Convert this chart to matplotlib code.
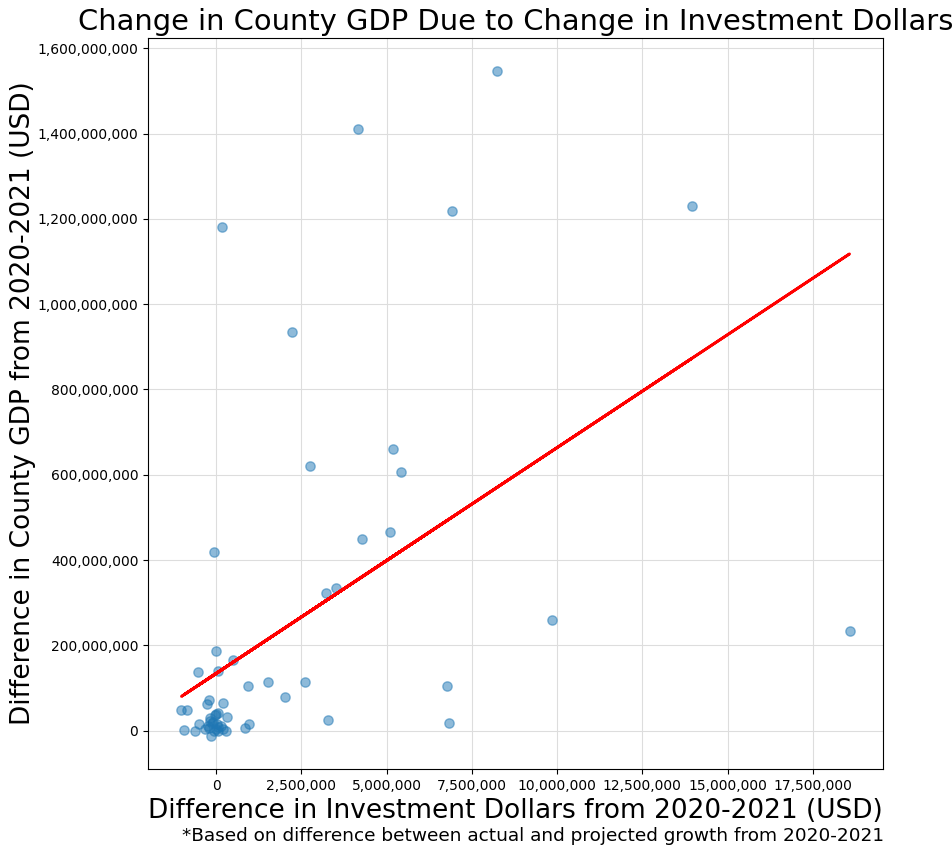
import numpy as np
import matplotlib
matplotlib.use("Agg")
import matplotlib.pyplot as plt
from matplotlib.ticker import FuncFormatter

# Difference in investment dollars (USD, millions) per county
invest_diff_m = [
    8.226, 4.150, 6.906, 13.944, 0.161, 2.214, 5.176, 2.742, 5.411, 5.088,
    4.267, -0.073, 3.211, 3.504, 9.839, 18.578, -0.006, 0.504, -0.522, 0.065,
    1.531, 2.595, 6.759, 0.944, 2.009, 3.270, 6.818, 0.836, 0.953,
    -0.220, -0.270, 0.211, -1.021, -0.856, 0.053, -0.044, 0.317, -0.170,
    -0.513, -0.094, -0.240, 0.023, 0.152, -0.317, 0.006, 0.199, -0.944,
    -0.610, 0.299, -0.141, 0.065, -0.170,
    -0.015, -0.132, -0.220, 0.044, -0.073,
]
# Difference in county GDP (USD, millions) per county
gdp_diff_m = [
    1545.9, 1409.8, 1217.5, 1229.2, 1179.9, 933.6, 661.5, 621.6, 607.6, 466.8,
    450.4, 419.9, 323.7, 335.4, 260.4, 234.6, 187.7, 166.5, 138.4, 140.7,
    114.2, 114.9, 105.6, 105.6, 79.8, 25.8, 18.8, 7.7, 15.7,
    72.7, 62.6, 65.0, 47.6, 47.6, 42.2, 37.5, 31.2, 28.9,
    15.7, 19.5, 11.7, 15.7, 11.7, 5.4, 5.4, 4.0, 1.6,
    -1.6, 0.0, -11.7, -1.2, 23.5,
    39.9, 18.8, 7.0, 9.4, 0.0,
]

x = np.array(invest_diff_m) * 1e6
y = np.array(gdp_diff_m) * 1e6

fig = plt.figure(figsize=(9.52, 8.49), dpi=100)
ax = fig.add_axes([0.1555, 0.0942, 0.772, 0.861])

ax.scatter(x, y, s=45, alpha=0.5, color="tab:blue", zorder=2)

# least-squares trend line
slope, intercept = np.polyfit(x, y, 1)
ax.plot(x, slope * x + intercept, color="red", linewidth=2, zorder=3)

ax.grid(True, color="#dddddd", linewidth=0.8, zorder=0)
ax.set_axisbelow(True)

fmt = FuncFormatter(lambda v, p: f"{v:,.0f}")
ax.xaxis.set_major_formatter(fmt)
ax.yaxis.set_major_formatter(fmt)
ax.tick_params(labelsize=10)

ax.set_title("Change in County GDP Due to Change in Investment Dollars", fontsize=20.8)
ax.set_xlabel("Difference in Investment Dollars from 2020-2021 (USD)", fontsize=19)
ax.set_ylabel("Difference in County GDP from 2020-2021 (USD)", fontsize=19, labelpad=1)
fig.text(0.929, 0.0094, "*Based on difference between actual and projected growth from 2020-2021",
         ha="right", va="baseline", fontsize=13.3)

fig.savefig("out.png", dpi=100)
